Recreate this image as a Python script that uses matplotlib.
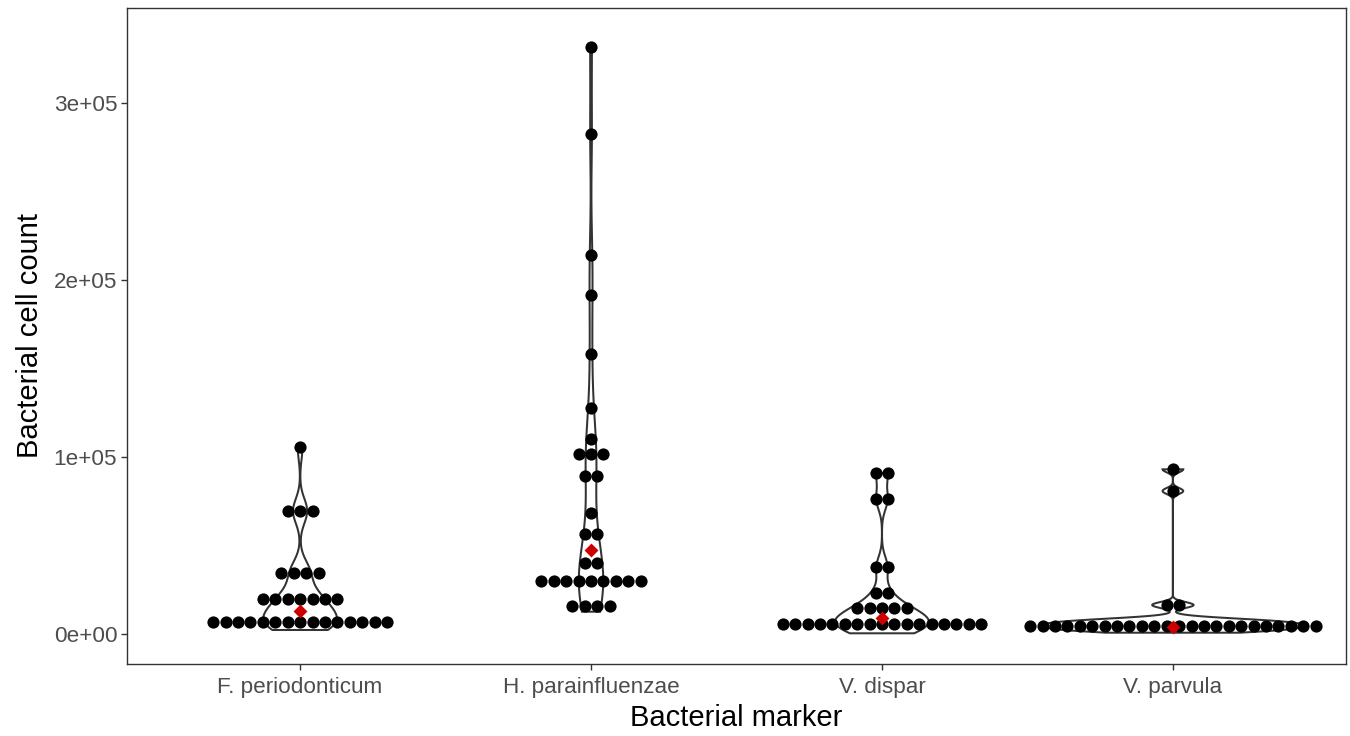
import math
import numpy as np
import matplotlib
matplotlib.use("Agg")
import matplotlib.pyplot as plt

plt.rcParams['font.family'] = ['Liberation Sans', 'DejaVu Sans']

# ---- data ----
categories = ["F. periodonticum", "H. parainfluenzae", "V. dispar", "V. parvula"]

# dot rows: binned values and number of dots in each row
fp_values = [6950, 19600, 34630, 69490, 105480]
fp_counts = [15, 7, 4, 3, 1]

hp_values = [15820, 29940, 40280, 56670, 68190, 89430, 101530, 110170,
             127850, 158360, 191530, 214120, 282320, 331470]
hp_counts = [4, 9, 2, 2, 1, 2, 3, 1, 1, 1, 1, 1, 1, 1]

vd_values = [5480, 14520, 23330, 37680, 76100, 90790]
vd_counts = [17, 5, 2, 2, 2, 2]

vp_values = [4690, 16380, 80790, 93050]
vp_counts = [24, 2, 1, 1]

medians = [13000, 47460, 9210, 3790]

# violin extent (min / max of the raw data) and smoothing bandwidth
violin_min = [2260, 12600, 400, 730]
violin_max = [105480, 331470, 90790, 93050]
bandwidths = [7000, 20000, 6000, 1700]

y_ticks = [0, 100000, 200000, 300000]
y_tick_labels = ["0e+00", "1e+05", "2e+05", "3e+05"]

groups = [(fp_values, fp_counts), (hp_values, hp_counts),
          (vd_values, vd_counts), (vp_values, vp_counts)]

erf = np.vectorize(math.erf)


def Phi(z):
    return 0.5 * (1.0 + erf(z / math.sqrt(2.0)))


# ---- figure ----
fig = plt.figure(figsize=(13.5, 7.36), dpi=100)
ax = fig.add_axes([127 / 1350, 1 - 664 / 736, (1346 - 127) / 1350, (664 - 8) / 736])

# KDE for violins; the lowest dot row stands for values spread over its bin
dens_list = []
for gi, (vals, cnts) in enumerate(groups):
    grid = np.linspace(violin_min[gi], violin_max[gi], 512)
    bw = bandwidths[gi]
    ntot = sum(cnts)
    d = np.zeros_like(grid)
    for k, (v, n) in enumerate(zip(vals, cnts)):
        if k == 0:
            a = violin_min[gi]
            b = 2 * v - a
            d += n * (Phi((grid - a) / bw) - Phi((grid - b) / bw)) / (b - a)
        else:
            d += n * np.exp(-0.5 * ((grid - v) / bw) ** 2) / (bw * math.sqrt(2 * math.pi))
    d /= ntot
    dens_list.append((grid, d))
gmax = max(d.max() for _, d in dens_list)

for gi, (grid, d) in enumerate(dens_list):
    pos = gi + 1
    w = 0.45 * d / gmax
    xs = np.concatenate([pos + w, (pos - w)[::-1], [pos + w[0]]])
    ys = np.concatenate([grid, grid[::-1], [grid[0]]])
    ax.fill(xs, ys, facecolor="white", edgecolor="#333333", linewidth=1.45, zorder=2)

# dots (centred stacks)
step = 12.4 / 290.7
for gi, (vals, cnts) in enumerate(groups):
    pos = gi + 1
    xs, ys = [], []
    for v, n in zip(vals, cnts):
        offs = (np.arange(n) - (n - 1) / 2) * step
        xs.extend(pos + offs)
        ys.extend([v] * n)
    ax.scatter(xs, ys, s=8.8 ** 2, c="black", linewidths=0, zorder=3)

# medians
ax.scatter(np.arange(1, 5), medians, marker=(4, 0, 0), s=10 ** 2,
           c="#CD0000", linewidths=0, zorder=4)

ax.set_xlim(0.405, 4.595)
ax.set_ylim(-16950, 353700)
ax.set_xticks(np.arange(1, 5))
ax.set_xticklabels(categories)
ax.set_yticks(y_ticks)
ax.set_yticklabels(y_tick_labels)

ax.tick_params(axis="both", labelsize=16.2, labelcolor="#4D4D4D", color="#333333",
               length=4, width=1.0)
ax.tick_params(axis="x", pad=5)
ax.tick_params(axis="y", pad=3.0)
for sp in ax.spines.values():
    sp.set_color("#333333")
    sp.set_linewidth(1.0)

ax.set_xlabel("Bacterial marker", fontsize=21, color="black", labelpad=5)
ax.set_ylabel("Bacterial cell count", fontsize=21, color="black", labelpad=7)

fig.savefig("out.png", dpi=100)
